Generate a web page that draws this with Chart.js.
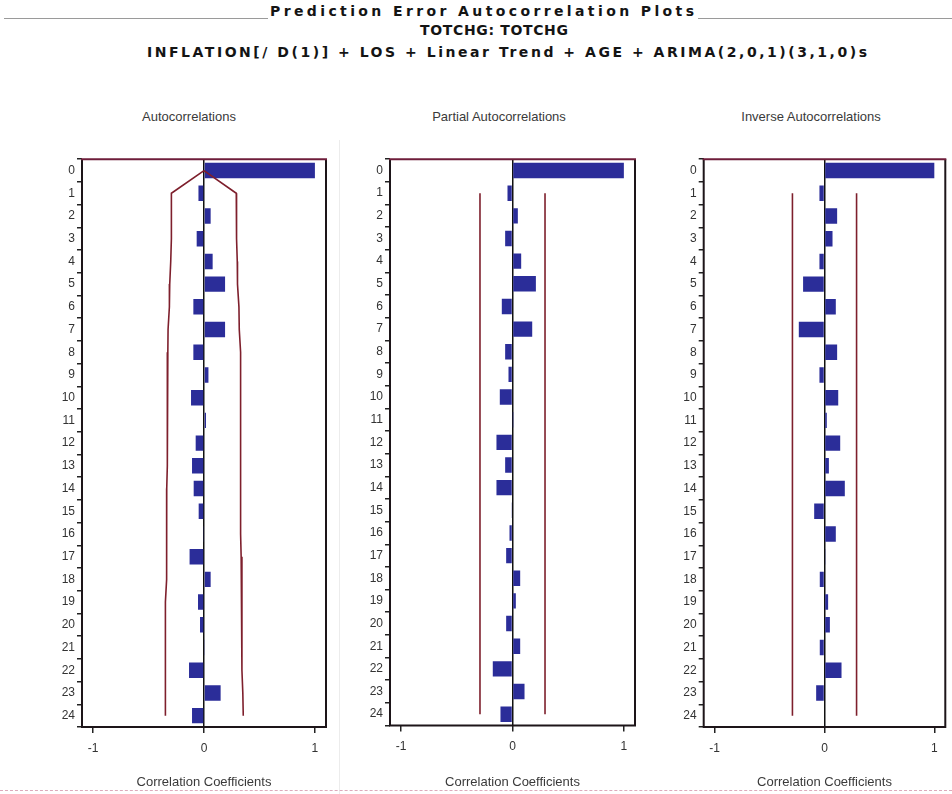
<!DOCTYPE html>
<html>
<head>
<meta charset="utf-8">
<script src="https://cdn.jsdelivr.net/npm/chart.js@4.4.1/dist/chart.umd.min.js"></script>
<style>
  html, body { margin: 0; padding: 0; background: #fff; }
  body { width: 952px; height: 794px; position: relative; overflow: hidden;
         font-family: "Liberation Sans", Arial, sans-serif; }
  .hd { position: absolute; font-family: "DejaVu Sans", sans-serif; font-weight: bold;
        font-size: 14px; color: #141414; white-space: nowrap; line-height: 15px; }
  .rule { position: absolute; height: 0; border-top: 1px solid #9a9a9a; }
  .sub { position: absolute; font-size: 13px; color: #3a3a3a; white-space: nowrap;
         transform: translate(-50%, -50%); }
  canvas { position: absolute; top: 150px; }
  #sep { position: absolute; left: 339px; top: 140px; width: 0; height: 654px; border-left: 1px solid #ececec; }
  #foot { position: absolute; left: 0; top: 790px; width: 952px; height: 0; border-top: 1px dashed #dcaabb; }
</style>
</head>
<body>
<div class="rule" style="left:4px; top:18px; width:264px;"></div>
<div class="rule" style="left:698px; top:18px; width:254px;"></div>
<div class="hd" data-w="424" style="left:270px; top:4px;">Prediction Error Autocorrelation Plots</div>
<div class="hd" data-w="148" style="left:420px; top:23px;">TOTCHG: TOTCHG</div>
<div class="hd" data-w="720" style="left:147px; top:45px;">INFLATION[/ D(1)] + LOS + Linear Trend + AGE + ARIMA(2,0,1)(3,1,0)s</div>

<div class="sub" style="left:189px; top:116px;">Autocorrelations</div>
<div class="sub" style="left:499px; top:116px;">Partial Autocorrelations</div>
<div class="sub" style="left:811px; top:116px;">Inverse Autocorrelations</div>

<div id="sep"></div>
<canvas id="acf" width="340" height="644" style="left:0px;"></canvas>
<canvas id="pacf" width="305" height="644" style="left:340px;"></canvas>
<canvas id="iacf" width="307" height="644" style="left:645px;"></canvas>
<div id="foot"></div>

<script>
// Spread each heading's letters so the line runs its full width
document.querySelectorAll('.hd').forEach((el) => {
  const target = Number(el.dataset.w);
  const n = el.textContent.length;
  const w0 = el.getBoundingClientRect().width;
  el.style.letterSpacing = ((target - w0) / (n - 1)) + 'px';
});

// Lags shown on each panel's vertical axis
const lags = ['0','1','2','3','4','5','6','7','8','9','10','11','12',
              '13','14','15','16','17','18','19','20','21','22','23','24'];
const xTickValues = [-1, 0, 1];

// Autocorrelations of the prediction errors
const acfValues = [1.0, -0.05, 0.06, -0.066, 0.078, 0.19, -0.096, 0.19, -0.096, 0.04,
                   -0.117, 0.018, -0.075, -0.108, -0.093, -0.048, -0.005, -0.13, 0.06,
                   -0.054, -0.036, 0.005, -0.135, 0.15, -0.108];
// Two-standard-error limits for the autocorrelations
const acfUpper = [0, 0.291, 0.291, 0.296, 0.300, 0.302, 0.315, 0.318, 0.330, 0.330,
                  0.330, 0.330, 0.330, 0.330, 0.330, 0.330, 0.330, 0.335, 0.342, 0.342,
                  0.342, 0.342, 0.342, 0.350, 0.354];
const acfLower = [0, -0.294, -0.294, -0.294, -0.300, -0.309, -0.312, -0.324, -0.326, -0.330,
                  -0.330, -0.330, -0.330, -0.333, -0.336, -0.336, -0.336, -0.336, -0.340, -0.348,
                  -0.348, -0.348, -0.348, -0.348, -0.348];

// Partial autocorrelations
const pacfValues = [1.0, -0.045, 0.048, -0.066, 0.078, 0.21, -0.096, 0.177, -0.066, -0.036,
                    -0.114, 0.003, -0.144, -0.066, -0.144, -0.005, -0.027, -0.057, 0.069,
                    0.03, -0.057, 0.069, -0.177, 0.108, -0.108];
const pacfUpper = [null, 0.292, 0.292, 0.292, 0.292, 0.292, 0.292, 0.292, 0.292, 0.292,
                   0.292, 0.292, 0.292, 0.292, 0.292, 0.292, 0.292, 0.292, 0.292, 0.292,
                   0.292, 0.292, 0.292, 0.292, 0.292];
const pacfLower = [null, -0.292, -0.292, -0.292, -0.292, -0.292, -0.292, -0.292, -0.292, -0.292,
                   -0.292, -0.292, -0.292, -0.292, -0.292, -0.292, -0.292, -0.292, -0.292, -0.292,
                   -0.292, -0.292, -0.292, -0.292, -0.292];

// Inverse autocorrelations
const iacfValues = [1.0, -0.046, 0.115, 0.073, -0.046, -0.195, 0.103, -0.234, 0.115, -0.046,
                    0.125, 0.021, 0.143, 0.04, 0.185, -0.094, 0.103, 0.005, -0.043, 0.033,
                    0.049, -0.043, 0.155, -0.076, 0.0];
const iacfUpper = pacfUpper;
const iacfLower = pacfLower;

const barColor = '#2b2d99';
const bandColor = '#7e1f2c';
const labelFont = { family: '"Liberation Sans", Arial, sans-serif', size: 12 };

// Box around each plotting area; the top edge carries the reddish rule
const frame = {
  id: 'frame',
  afterDraw(chart) {
    const { ctx, chartArea: a } = chart;
    ctx.save();
    ctx.lineWidth = 2;
    ctx.strokeStyle = '#1d1519';
    ctx.beginPath();
    ctx.moveTo(a.left, a.top);
    ctx.lineTo(a.left, a.bottom);
    ctx.lineTo(a.right, a.bottom);
    ctx.lineTo(a.right, a.top);
    ctx.stroke();
    ctx.strokeStyle = '#6e1d3a';
    ctx.beginPath();
    ctx.moveTo(a.left - 1, a.top);
    ctx.lineTo(a.right + 1, a.top);
    ctx.stroke();
    ctx.restore();
  }
};

function makePanel(id, values, upper, lower, box) {
  const band = (data) => ({
    type: 'line', data, indexAxis: 'y', borderColor: bandColor, borderWidth: 1.6,
    pointRadius: 0, fill: false, tension: 0, order: 0
  });
  new Chart(document.getElementById(id), {
    data: {
      labels: lags,
      datasets: [
        band(upper),
        band(lower),
        { type: 'bar', data: values, backgroundColor: barColor, borderWidth: 0,
          barPercentage: 0.68, categoryPercentage: 1.0, order: 1 }
      ]
    },
    options: {
      indexAxis: 'y',
      responsive: false,
      animation: false,
      layout: { padding: { top: box.top, right: box.right, left: 0, bottom: 0 } },
      plugins: { legend: { display: false }, tooltip: { enabled: false } },
      scales: {
        x: {
          type: 'linear', min: -1.1, max: 1.1,
          afterBuildTicks: (s) => { s.ticks = xTickValues.map(v => ({ value: v })); },
          afterFit: (s) => { s.height = box.xh; },
          ticks: { padding: 8, color: '#333', font: labelFont, callback: (v) => String(v) },
          grid: {
            color: (c) => (c.tick && c.tick.value === 0 ? '#111' : 'rgba(0,0,0,0)'),
            lineWidth: 1.5, tickColor: '#222', tickLength: 6, drawOnChartArea: true
          },
          border: { display: false },
          title: { display: true, text: 'Correlation Coefficients', color: '#3a3a3a',
                   font: { family: labelFont.family, size: 13 }, padding: { top: 0, bottom: 4 } }
        },
        y: {
          type: 'category', offset: true,
          afterFit: (s) => { s.width = box.yw; },
          ticks: { padding: 2, color: '#333', font: labelFont, autoSkip: false },
          grid: { drawOnChartArea: false, tickLength: 5, color: '#222', lineWidth: 1.5 },
          border: { display: false }
        }
      }
    },
    plugins: [frame]
  });
}

makePanel('acf',  acfValues,  acfUpper,  acfLower,  { yw: 82,   top: 7,   right: 14,  xh: 67 });
makePanel('pacf', pacfValues, pacfUpper, pacfLower, { yw: 50,   top: 6,   right: 10,  xh: 68.5 });
makePanel('iacf', iacfValues, iacfUpper, iacfLower, { yw: 58.7, top: 8.6, right: 6.7, xh: 67 });
</script>
</body>
</html>
